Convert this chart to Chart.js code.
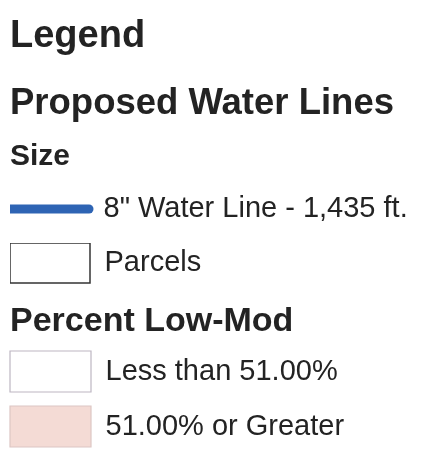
<!DOCTYPE html>
<html>
<head>
<meta charset="utf-8">
<script src="https://cdn.jsdelivr.net/npm/chart.js@4.4.1/dist/chart.umd.min.js"></script>
<style>
  html, body { margin: 0; padding: 0; background: #ffffff; overflow: hidden; }
  #wrap { width: 425px; height: 455px; overflow: hidden; }
  canvas { display: block; }
</style>
</head>
<body>
<div id="wrap">
  <canvas id="c1" width="425" height="236"></canvas>
  <canvas id="c2" width="425" height="105"></canvas>
  <canvas id="c3" width="425" height="130"></canvas>
</div>
<script>
// headings
const legendTitle = "Legend";
const layerTitle = "Proposed Water Lines";
const sizeTitle = "Size";
const lowModTitle = "Percent Low-Mod";

// legend entries
const lineLabels = ['8" Water Line - 1,435 ft.'];
const lineColors = ["#2e64b4"];
const parcelLabels = ["Parcels"];
const parcelFill = ["#ffffff"];
const parcelBorder = ["#333333"];
const lowModLabels = ["Less than 51.00%", "51.00% or Greater"];
const lowModFill = ["#ffffff", "#f4dbd5"];
const lowModBorder = ["#bdb6c2", "#dcc6c4"];

const fontFam = "'Liberation Sans', Arial, sans-serif";
const textColor = "#232323";

// legend items straight from the datasets (no data points, legend only)
function makeItems(chart) {
    return chart.data.datasets.map((ds, i) => ({
        text: ds.label,
        fillStyle: ds.backgroundColor,
        strokeStyle: ds.borderColor,
        lineWidth: ds.borderWidth,
        lineCap: ds.borderCapStyle || "butt",
        pointStyle: ds.pointStyle,
        fontColor: textColor,
        hidden: false,
        datasetIndex: i
    }));
}

const noScales = { x: { display: false }, y: { display: false } };

// Legend / Proposed Water Lines / Size
new Chart(document.getElementById("c1"), {
    type: "line",
    data: {
        labels: [],
        datasets: lineLabels.map((l, i) => ({
            label: l, data: [],
            borderColor: lineColors[i], backgroundColor: lineColors[i],
            borderWidth: 9, borderCapStyle: "round", pointStyle: "line"
        }))
    },
    options: {
        responsive: false, animation: false,
        layout: { padding: { left: 10 } },
        scales: noScales,
        plugins: {
            title: {
                display: true, text: legendTitle, align: "start", color: textColor,
                font: { family: fontFam, size: 38, weight: "bold" },
                padding: { top: 14, bottom: 0 }
            },
            subtitle: {
                display: true, text: layerTitle, align: "start", color: textColor,
                font: { family: fontFam, size: 36.5, weight: "bold" },
                padding: { top: 22, bottom: 0 }
            },
            legend: {
                position: "left", align: "start", fullSize: false, maxWidth: 425,
                title: {
                    display: true, text: sizeTitle, position: "start", color: textColor,
                    font: { family: fontFam, size: 30, weight: "bold" },
                    padding: { top: 16.6, bottom: 16.5 }
                },
                labels: {
                    usePointStyle: true, pointStyleWidth: 79, padding: 0,
                    color: textColor, font: { family: fontFam, size: 29 },
                    generateLabels: makeItems
                }
            },
            tooltip: { enabled: false }
        }
    }
});

// Parcels + Percent Low-Mod heading
new Chart(document.getElementById("c2"), {
    type: "bar",
    data: {
        labels: [],
        datasets: parcelLabels.map((l, i) => ({
            label: l, data: [],
            backgroundColor: parcelFill[i], borderColor: parcelBorder[i], borderWidth: 1.5
        }))
    },
    options: {
        responsive: false, animation: false,
        layout: { padding: { left: 10, top: 7 } },
        scales: noScales,
        plugins: {
            title: {
                display: true, text: lowModTitle, align: "start", position: "bottom", color: textColor,
                font: { family: fontFam, size: 34, weight: "bold" },
                padding: { top: 0, bottom: -1 }
            },
            legend: {
                position: "left", align: "start", fullSize: false, maxWidth: 425,
                labels: {
                    boxWidth: 80, boxHeight: 40, padding: 0,
                    color: textColor, font: { family: fontFam, size: 29 },
                    generateLabels: makeItems
                }
            },
            tooltip: { enabled: false }
        }
    }
});

// low-mod classes
new Chart(document.getElementById("c3"), {
    type: "bar",
    data: {
        labels: [],
        datasets: lowModLabels.map((l, i) => ({
            label: l, data: [],
            backgroundColor: lowModFill[i], borderColor: lowModBorder[i], borderWidth: 1.2
        }))
    },
    options: {
        responsive: false, animation: false,
        layout: { padding: { left: -4, top: -4 } },
        scales: noScales,
        plugins: {
            legend: {
                position: "left", align: "start", fullSize: true, maxWidth: 425,
                labels: {
                    boxWidth: 81, boxHeight: 41, padding: 14,
                    color: textColor, font: { family: fontFam, size: 29 },
                    generateLabels: makeItems
                }
            },
            tooltip: { enabled: false }
        }
    }
});
</script>
</body>
</html>
